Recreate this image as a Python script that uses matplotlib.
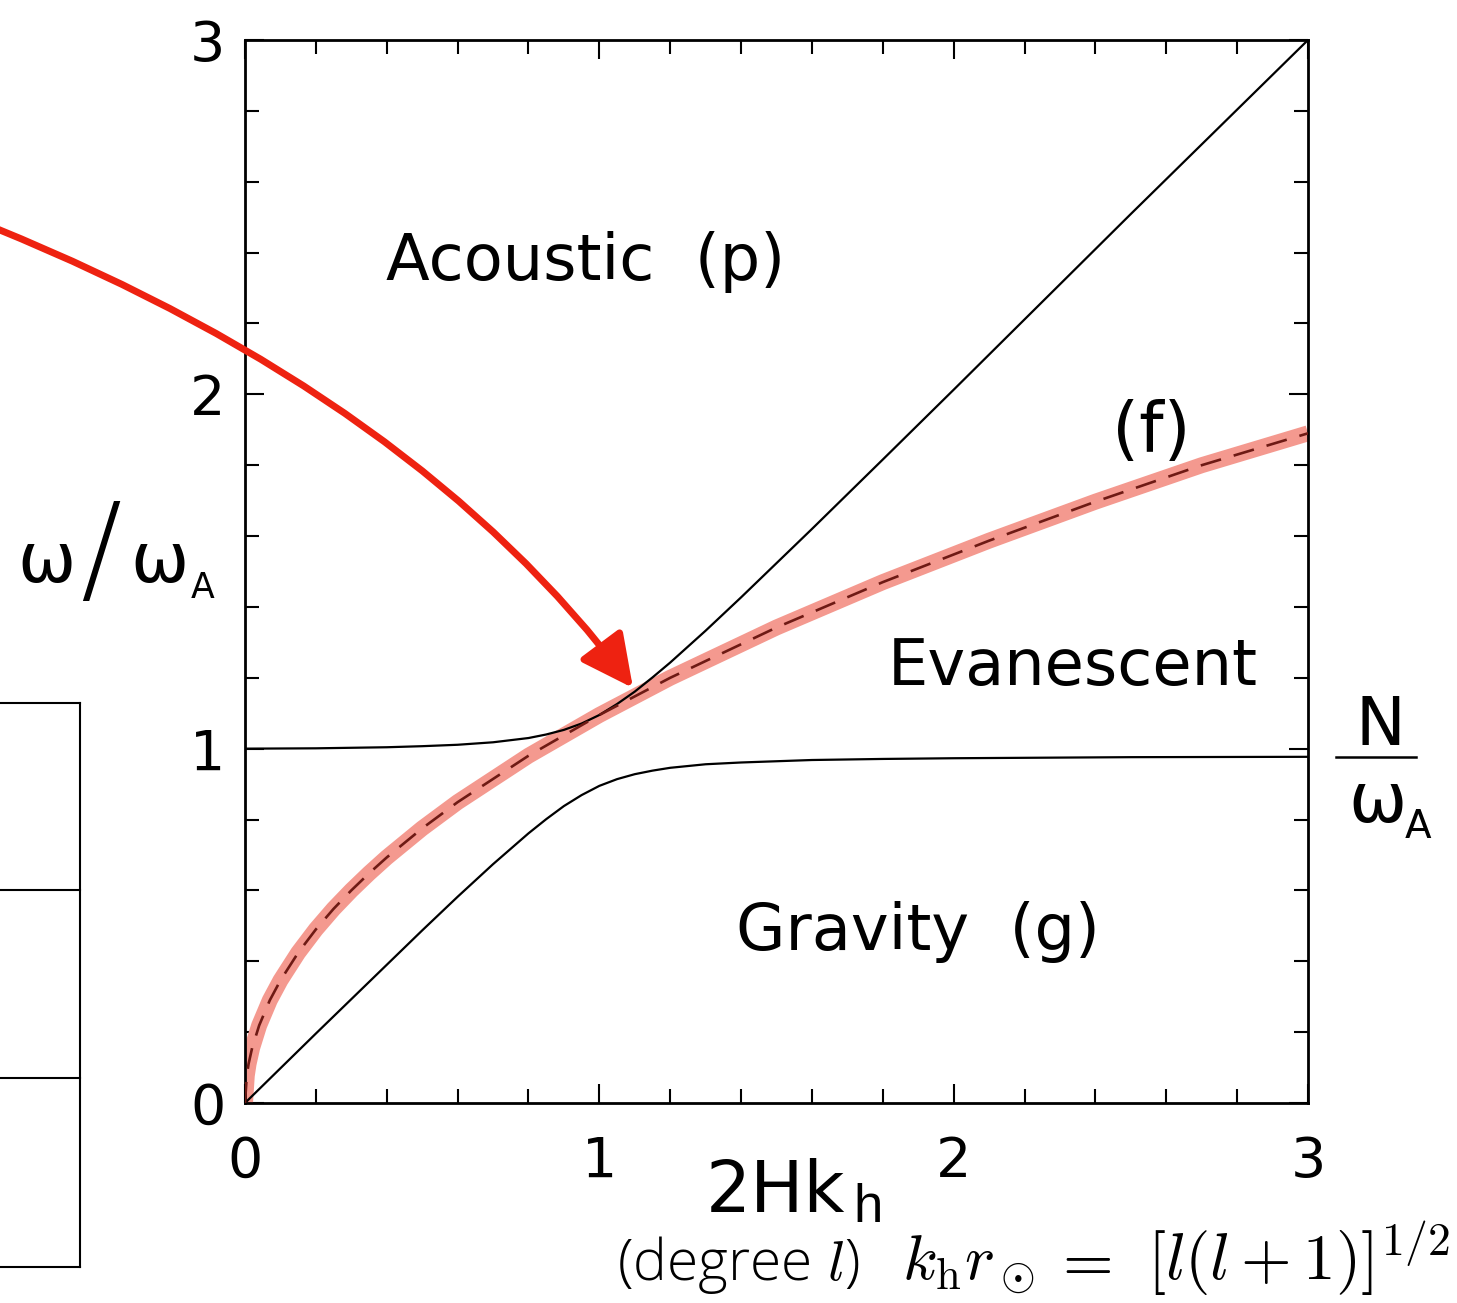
import matplotlib
matplotlib.use("Agg")
import matplotlib.pyplot as plt
from matplotlib.patches import FancyArrowPatch
from matplotlib.path import Path
from matplotlib.lines import Line2D
from matplotlib.ticker import MultipleLocator

# ---- data ----
x_f = [0, 0.005, 0.01, 0.02, 0.04, 0.07, 0.1, 0.15, 0.2, 0.25, 0.3, 0.35, 0.4, 0.5,
       0.6, 0.8, 1.0, 1.2, 1.5, 1.8, 2.1, 2.4, 2.7, 3.0]
y_f = [0, 0.077, 0.110, 0.155, 0.219, 0.290, 0.346, 0.424, 0.490, 0.548, 0.600, 0.648,
       0.693, 0.775, 0.849, 0.980, 1.095, 1.200, 1.342, 1.470, 1.587, 1.697, 1.800, 1.89]

x_b = [0, 0.2, 0.4, 0.5, 0.6, 0.7, 0.8, 0.85, 0.9, 0.95, 1.0, 1.05, 1.1, 1.15, 1.2,
       1.3, 1.4, 1.6, 1.8, 2.0, 2.5, 3.0]
y_up = [1.000, 1.001, 1.004, 1.007, 1.011, 1.018, 1.030, 1.040, 1.053, 1.071, 1.095,
        1.126, 1.161, 1.201, 1.243, 1.333, 1.427, 1.620, 1.816, 2.013, 2.509, 3.0]
y_lo = [0, 0.196, 0.390, 0.487, 0.582, 0.674, 0.761, 0.801, 0.838, 0.869, 0.895,
        0.914, 0.928, 0.938, 0.946, 0.956, 0.961, 0.968, 0.971, 0.973, 0.976, 0.977]

x_ticks = [0, 1, 2, 3]
y_ticks = [0, 1, 2, 3]

W, H = 1457, 1303
fig = plt.figure(figsize=(W / 100, H / 100), dpi=100)
ax = fig.add_axes([245 / W, 1 - 1103 / H, 1063 / W, 1063 / H])


def px(x, y):
    return (x / W, 1 - y / H)


# f-mode band and dashed line
ax.plot(x_f, y_f, color="#f4998f", lw=11.5, solid_capstyle="butt", zorder=2)
ax.plot(x_f, y_f, color="#6e1a14", lw=1.9, dashes=(8, 5), zorder=4)
# boundaries
ax.plot(x_b, y_up, color="black", lw=1.6, zorder=3)
ax.plot(x_b, y_lo, color="black", lw=1.6, zorder=3)

ax.set_xlim(0, 3)
ax.set_ylim(0, 3)
ax.set_xticks(x_ticks)
ax.set_yticks(y_ticks)
ax.set_xticklabels([str(v) for v in x_ticks])
ax.set_yticklabels([str(v) for v in y_ticks])
ax.xaxis.set_minor_locator(MultipleLocator(0.2))
ax.yaxis.set_minor_locator(MultipleLocator(0.2))
ax.tick_params(which="both", direction="in", top=True, right=True, width=1.5, color="black")
ax.tick_params(which="major", length=14)
ax.tick_params(which="minor", length=10)
ax.tick_params(axis="x", which="major", labelsize=40, pad=23)
ax.tick_params(axis="y", which="major", labelsize=40, pad=14)
for s in ax.spines.values():
    s.set_linewidth(2.0)

fs = 46
ax.text(0.961, 2.323, "Acoustic  (p)", fontsize=fs, ha="center", va="baseline")
ax.text(2.337, 1.180, "Evanescent", fontsize=fs, ha="center", va="baseline")
ax.text(1.90, 0.432, "Gravity  (g)", fontsize=fs, ha="center", va="baseline")
ax.text(2.557, 1.837, "(f)", fontsize=50, ha="center", va="baseline")

# y label  (omega / omega_A)
fig.text(*px(17, 582), "ω", fontsize=50, ha="left", va="baseline")
fig.text(*px(101, 590), "/", fontsize=88, ha="center", va="baseline", fontweight="light")
fig.text(*px(130, 582), "ω", fontsize=50, ha="left", va="baseline")
fig.text(*px(191, 598), "A", fontsize=25, ha="left", va="baseline")

# N / omega_A at right
fig.text(*px(1380, 745), "N", fontsize=48, ha="center", va="baseline")
fig.add_artist(Line2D([1336 / W, 1416 / W], [1 - 757 / H, 1 - 757 / H], color="black",
                      lw=1.8, transform=fig.transFigure))
fig.text(*px(1348, 822), "ω", fontsize=50, ha="left", va="baseline")
fig.text(*px(1405, 838), "A", fontsize=28, ha="left", va="baseline")

# x label
fig.text(*px(706, 1212), "2Hk", fontsize=51, ha="left", va="baseline")
fig.text(*px(853, 1222), "h", fontsize=38, ha="left", va="baseline",
         family="Liberation Sans")
# degree relation
fig.text(*px(617, 1280), r"(degree $l$)", fontsize=41, ha="left", va="baseline",
         family="Open Sans", fontweight="light", math_fontfamily="cm")
fig.text(*px(902, 1280), r"$k_{\rm h}r_\odot$", fontsize=46, ha="left", va="baseline",
         math_fontfamily="cm")
fig.text(*px(1081, 1280), r"$=$", fontsize=47, ha="center", va="baseline",
         math_fontfamily="cm")
fig.text(*px(1450, 1280), r"$[l(l+1)]^{1/2}$", fontsize=47, ha="right", va="baseline",
         math_fontfamily="cm")

# red arrow
red = "#ee2211"
verts = [px(-5, 228), px(418, 400), px(633, 688)]
path = Path(verts, [Path.MOVETO, Path.CURVE3, Path.CURVE3])
arrow = FancyArrowPatch(path=path, arrowstyle="-|>,head_length=0.8,head_width=0.4",
                        mutation_scale=40, color=red, lw=5.0, transform=fig.transFigure,
                        zorder=10)
fig.add_artist(arrow)

# partial box at left
box_lines = [((-5, 703), (80, 703)), ((80, 703), (80, 1267)), ((-5, 1267), (80, 1267)),
             ((-5, 890), (80, 890)), ((-5, 1078), (80, 1078))]
for (a, b) in box_lines:
    p1, p2 = px(*a), px(*b)
    fig.add_artist(Line2D([p1[0], p2[0]], [p1[1], p2[1]], color="black", lw=1.5,
                          transform=fig.transFigure))

fig.savefig("out.png", dpi=100)
